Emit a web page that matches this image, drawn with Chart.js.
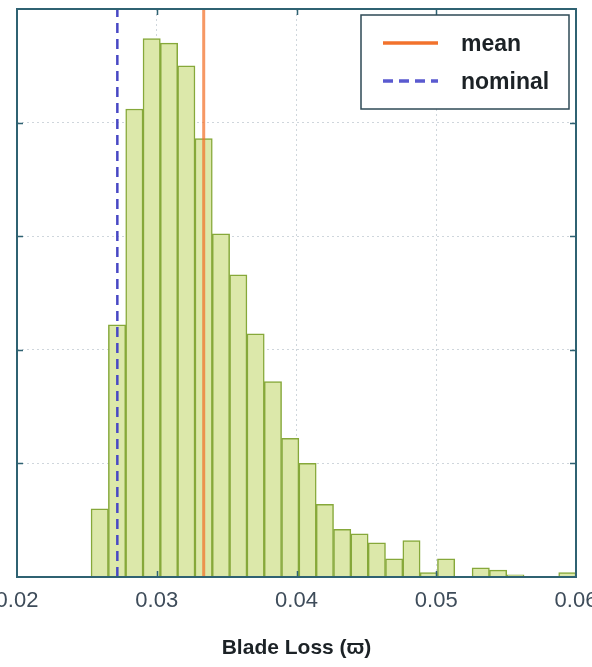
<!DOCTYPE html>
<html>
<head>
<meta charset="utf-8">
<title>Blade Loss histogram</title>
<script src="https://cdn.jsdelivr.net/npm/chart.js@4.4.1/dist/chart.umd.min.js"></script>
<style>
  html, body { margin: 0; padding: 0; background: #ffffff; }
  #wrap { position: relative; width: 592px; height: 667px; }
</style>
</head>
<body>
<div id="wrap"><canvas id="chart"></canvas></div>
<script>
// Histogram bin centres (Blade Loss) and counts per bin
const binCenters = [
  0.0259197, 0.0271590, 0.0283983, 0.0296376, 0.0308769, 0.0321162, 0.0333555,
  0.0345948, 0.0358341, 0.0370734, 0.0383127, 0.0395520, 0.0407913, 0.0420306,
  0.0432699, 0.0445092, 0.0457485, 0.0469878, 0.0482271, 0.0494664, 0.0507057,
  0.0519450, 0.0531843, 0.0544236, 0.0556629, 0.0569022, 0.0581415, 0.0593808
];
const binCounts = [
  30, 111, 206, 237, 235, 225, 193,
  151, 133, 107, 86, 61, 50, 32,
  21, 19, 15, 8, 16, 2, 8,
  0, 4, 3, 1, 0, 0, 2
];

// Reference lines
const meanValue = 0.03336;
const nominalValue = 0.02718;

// Axis ticks
const xTickValues = [0.02, 0.03, 0.04, 0.05, 0.06];
const yGridValues = [0, 50, 100, 150, 200, 250];

const FRAME = '#2f6272';
const MEAN_COLOR = 'rgba(242, 112, 40, 0.72)';
const MEAN_LEGEND = '#f2722c';
const NOMINAL_COLOR = '#4848c4';

// Frame around the plot area plus short inward tick marks on every side
const framePlugin = {
  id: 'frame',
  afterDatasetsDraw(chart) {
    const { ctx, chartArea: a, scales } = chart;
    ctx.save();
    ctx.strokeStyle = FRAME;
    ctx.lineWidth = 1.5;
    ctx.beginPath();
    scales.x.ticks.forEach(t => {
      const px = Math.round(scales.x.getPixelForValue(t.value)) + 0.5;
      if (px <= a.left + 2 || px >= a.right - 2) return;
      ctx.moveTo(px, a.top); ctx.lineTo(px, a.top + 6);
      ctx.moveTo(px, a.bottom); ctx.lineTo(px, a.bottom - 6);
    });
    scales.y.ticks.forEach(t => {
      const py = Math.round(scales.y.getPixelForValue(t.value)) + 0.5;
      if (py <= a.top + 2 || py >= a.bottom - 2) return;
      ctx.moveTo(a.left, py); ctx.lineTo(a.left + 6, py);
      ctx.moveTo(a.right, py); ctx.lineTo(a.right - 6, py);
    });
    ctx.stroke();
    ctx.lineWidth = 2;
    ctx.strokeRect(a.left, a.top, a.right - a.left, a.bottom - a.top);
    ctx.restore();
  }
};

// Boxed legend in the upper right corner of the plot
const boxLegendPlugin = {
  id: 'boxLegend',
  afterDraw(chart) {
    const { ctx } = chart;
    const entries = chart.data.datasets.filter(d => d.type === 'line');
    const box = { x: 361, y: 15, w: 208, h: 94 };
    ctx.save();
    ctx.fillStyle = '#ffffff';
    ctx.fillRect(box.x, box.y, box.w, box.h);
    ctx.strokeStyle = '#2e4a56';
    ctx.lineWidth = 1.5;
    ctx.strokeRect(box.x, box.y, box.w, box.h);
    ctx.font = 'bold 23px "Liberation Sans", Arial, sans-serif';
    ctx.textBaseline = 'alphabetic';
    ctx.textAlign = 'left';
    entries.forEach((d, i) => {
      const cy = 43 + i * 38;
      ctx.beginPath();
      ctx.strokeStyle = d.legendColor;
      ctx.lineWidth = 3.5;
      ctx.setLineDash(d.borderDash || []);
      ctx.moveTo(383, cy);
      ctx.lineTo(438, cy);
      ctx.stroke();
      ctx.setLineDash([]);
      ctx.fillStyle = '#1c2226';
      ctx.fillText(d.label, 461, cy + 8);
    });
    ctx.restore();
  }
};

const verticalLine = v => [{ x: v, y: yGridValues[0] }, { x: v, y: yGridValues[yGridValues.length - 1] }];

new Chart(document.getElementById('chart'), {
  type: 'bar',
  data: {
    datasets: [
      {
        type: 'line',
        label: 'mean',
        data: verticalLine(meanValue),
        borderColor: MEAN_COLOR,
        legendColor: MEAN_LEGEND,
        borderWidth: 3,
        pointRadius: 0,
        order: 0
      },
      {
        type: 'line',
        label: 'nominal',
        data: verticalLine(nominalValue),
        borderColor: NOMINAL_COLOR,
        legendColor: '#5a5ad0',
        borderWidth: 2.5,
        borderDash: [10, 6],
        pointRadius: 0,
        order: 0
      },
      {
        type: 'bar',
        label: 'Blade Loss',
        data: binCenters.map((x, i) => ({ x: x, y: binCounts[i] })),
        backgroundColor: '#dce8aa',
        borderColor: '#86a83a',
        borderWidth: 1.5,
        barPercentage: 1,
        categoryPercentage: 1,
        order: 2
      }
    ]
  },
  options: {
    responsive: true,
    maintainAspectRatio: false,
    animation: false,
    layout: { padding: { left: 17, right: 16, top: 9, bottom: 0 } },
    plugins: {
      legend: { display: false },
      tooltip: { enabled: false }
    },
    scales: {
      x: {
        type: 'linear',
        offset: false,
        min: xTickValues[0],
        max: xTickValues[xTickValues.length - 1],
        afterBuildTicks: scale => { scale.ticks = xTickValues.map(v => ({ value: v })); },
        afterFit: scale => {
          scale.paddingLeft = 0;
          scale.paddingRight = 0;
          scale.height = 90;
        },
        ticks: {
          padding: 11,
          color: '#3e4c5a',
          font: { family: '"Liberation Sans", Arial, sans-serif', size: 22 },
          callback: v => v.toFixed(2),
          maxRotation: 0,
          autoSkip: false
        },
        grid: { color: '#cfd6dc', lineWidth: 1, drawTicks: false, offset: false },
        border: { display: false, dash: [2, 3] },
        title: {
          display: true,
          text: 'Blade Loss (ϖ)',
          color: '#1c2226',
          font: { family: '"Liberation Sans", Arial, sans-serif', size: 21, weight: 'bold' },
          padding: { top: 0, bottom: 6 }
        }
      },
      y: {
        min: yGridValues[0],
        max: yGridValues[yGridValues.length - 1],
        afterBuildTicks: scale => { scale.ticks = yGridValues.map(v => ({ value: v })); },
        afterFit: scale => { scale.width = 0; },
        ticks: { display: false },
        grid: { color: '#cfd6dc', lineWidth: 1, drawTicks: false },
        border: { display: false, dash: [2, 3] }
      }
    }
  },
  plugins: [framePlugin, boxLegendPlugin]
});
</script>
</body>
</html>
